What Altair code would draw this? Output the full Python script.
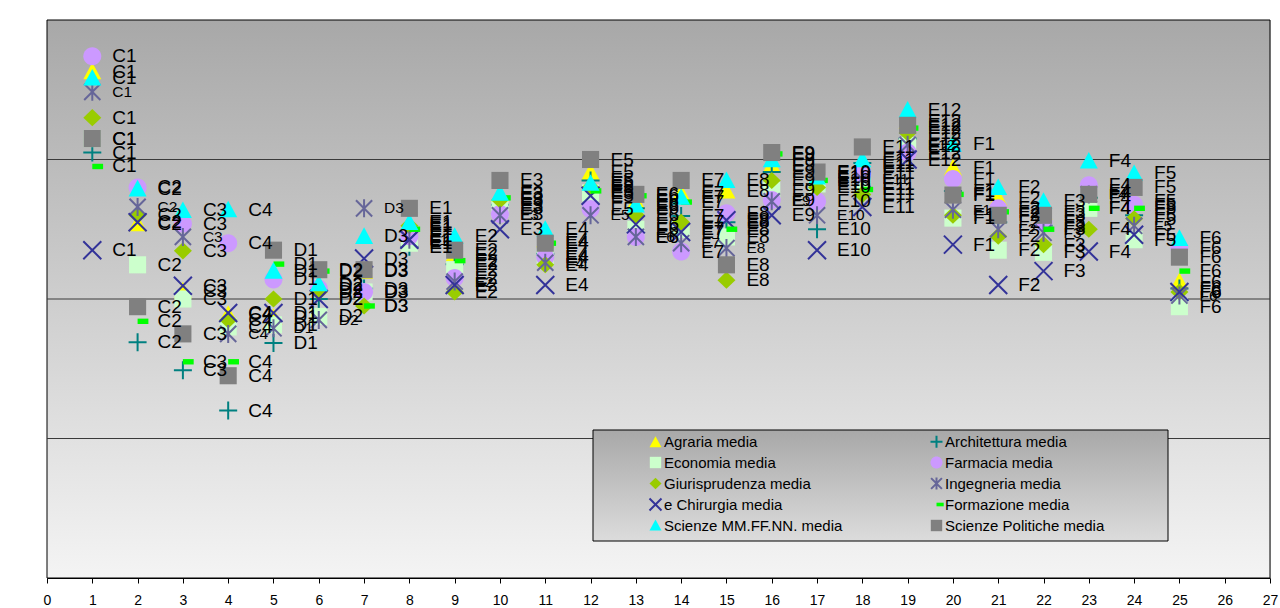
import altair as alt
import pandas as pd

FONT = "Liberation Sans"

# Course codes along the x axis (position 1..25)
codes = ["C1", "C2", "C3", "C4", "D1", "D2", "D3",
         "E1", "E2", "E3", "E4", "E5", "E6", "E7", "E8", "E9", "E10", "E11", "E12",
         "F1", "F2", "F3", "F4", "F5", "F6"]

series_names = ["Agraria media", "Architettura media", "Economia media", "Farmacia media",
                "Giurisprudenza media", "Ingegneria media", "e Chirurgia media",
                "Formazione media", "Scienze MM.FF.NN. media", "Scienze Politiche media"]

agraria = [9.26, 7.08, 6.12, 5.78, 5.74, 6.2, 6.4, 7.08, 6.65, 7.5, 6.85, 7.82, 7.4,
           7.52, 7.55, 7.92, 7.8, 7.9, 8.55, 7.88, 7.45, 7.25, 7.55, 7.4, 6.25]
architettura = [8.1, 5.38, 4.98, 4.4, 5.37, 6.0, 6.15, 6.75, 6.5, 7.35, 6.65, 7.7, 7.3,
                7.19, 7.1, 7.82, 7.0, 7.95, 8.3, 7.55, 7.1, 7.05, 7.45, 7.2, 6.15]
economia = [8.3, 6.49, 6.0, 5.6, 5.63, 5.75, 6.1, 6.8, 6.42, 7.3, 6.6, 7.52, 7.0,
            7.0, 6.89, 7.56, 7.65, 7.65, 8.2, 7.16, 6.7, 6.67, 7.3, 6.85, 5.89]
farmacia = [9.48, 7.6, 7.08, 6.8, 6.28, 6.15, 6.1, 6.9, 6.3, 7.22, 6.6, 7.29, 6.89,
            6.68, 7.23, 7.42, 7.4, 7.8, 8.1, 7.72, 7.3, 7.1, 7.63, 7.35, 6.73]
giurisprudenza = [8.6, 7.2, 6.69, 5.7, 6.0, 6.1, 5.9, 7.05, 6.1, 7.42, 6.49, 7.6, 7.2,
                  7.1, 6.27, 7.7, 7.6, 7.5, 8.38, 7.2, 6.9, 6.78, 7.0, 7.15, 6.1]
ingegneria = [8.97, 7.32, 6.89, 5.5, 5.58, 5.7, 7.3, 6.85, 6.25, 7.2, 6.52, 7.2, 6.89,
              6.8, 6.73, 7.4, 7.2, 7.72, 8.21, 7.28, 7.0, 6.95, 7.5, 7.05, 6.05]
medicina = [6.7, 7.1, 6.19, 5.8, 5.8, 6.0, 6.58, 6.85, 6.2, 7.0, 6.2, 7.48, 7.07,
            6.96, 7.13, 7.2, 6.7, 7.32, 8.0, 6.78, 6.2, 6.4, 6.68, 6.92, 6.1]
formazione = [7.9, 5.68, 5.1, 5.1, 6.5, 6.4, 5.9, 7.0, 6.55, 7.45, 6.8, 7.55, 7.48,
              7.39, 7.0, 8.08, 7.7, 7.57, 8.45, 7.5, 7.25, 7.0, 7.3, 7.3, 6.4]
mmffnn = [9.17, 7.58, 7.27, 7.28, 6.4, 6.22, 6.9, 7.1, 6.9, 7.52, 7.0, 7.66, 7.35,
          7.46, 7.7, 8.0, 7.75, 8.0, 8.71, 8.22, 7.6, 7.4, 7.98, 7.8, 6.87]
scipol = [8.3, 5.89, 5.5, 4.9, 6.7, 6.42, 6.42, 7.3, 6.7, 7.7, 6.8, 8.0, 7.5,
          7.7, 6.49, 8.1, 7.82, 8.18, 8.49, 7.49, 7.2, 7.2, 7.5, 7.6, 6.6]

all_values = [agraria, architettura, economia, farmacia, giurisprudenza,
              ingegneria, medicina, formazione, mmffnn, scipol]

# Marker styles, one per series (SVG paths in the unit square)
TRI = "M0,-1L1,0.85L-1,0.85Z"
PLUS = "M-1,0H1M0,-1V1"
SQUARE = "M-0.95,-0.95H0.95V0.95H-0.95Z"
CIRCLE = "M1,0A1,1,0,1,1,-1,0A1,1,0,1,1,1,0Z"
DIAMOND = "M0,-0.95L1,0L0,0.95L-1,0Z"
STAR = "M-0.9,-0.9L0.9,0.9M-0.9,0.9L0.9,-0.9M0,-1V1"
XMARK = "M-1,-1L1,1M-1,1L1,-1"
DASH = "M0,-0.3H1.2V0.3H0Z"

style = {
    "Agraria media": (TRI, "#ffff00", "transparent"),
    "Architettura media": (PLUS, "transparent", "#008080"),
    "Economia media": (SQUARE, "#ccffcc", "transparent"),
    "Farmacia media": (CIRCLE, "#cc99ff", "transparent"),
    "Giurisprudenza media": (DIAMOND, "#99cc00", "transparent"),
    "Ingegneria media": (STAR, "transparent", "#666699"),
    "e Chirurgia media": (XMARK, "transparent", "#333399"),
    "Formazione media": (DASH, "#00ff00", "transparent"),
    "Scienze MM.FF.NN. media": (TRI, "#00ffff", "transparent"),
    "Scienze Politiche media": (SQUARE, "#808080", "transparent"),
}

# The legend fills its two columns top to bottom, so list the left column first
legend_order = series_names[0::2] + series_names[1::2]
shapes = [style[s][0] for s in legend_order]
fills = [style[s][1] for s in legend_order]
strokes = [style[s][2] for s in legend_order]

rows = []
for name, vals in zip(series_names, all_values):
    for i, (code, v) in enumerate(zip(codes, vals)):
        rows.append({"serie": name, "x": i + 1, "y": v, "code": code})
df = pd.DataFrame(rows)

grid_values = [4, 6, 8]

W, H = 1223, 558

x_scale = alt.Scale(domain=[0, 27], nice=False, zero=False)
y_scale = alt.Scale(domain=[2, 10], nice=False, zero=False)

def gradient(top, bottom):
    return alt.Gradient(
        gradient="linear",
        stops=[alt.GradientStop(color=top, offset=0),
               alt.GradientStop(color=bottom, offset=1)],
        x1=0, x2=0, y1=0, y2=1,
    )

background = alt.Chart(alt.Data(values=[{}])).mark_rect(
    fill=gradient("#a8a8a8", "#f4f4f4"), stroke="#000000", strokeWidth=1
).encode(x=alt.value(0), x2=alt.value(W), y=alt.value(0), y2=alt.value(H))

grid = alt.Chart(pd.DataFrame({"g": grid_values})).mark_rule(
    color="#3a3a3a", strokeWidth=1
).encode(y=alt.Y("g:Q", scale=y_scale, axis=None))

legend_box = alt.Chart(alt.Data(values=[{}])).mark_rect(
    fill=gradient("#a8a8a8", "#dcdcdc"), stroke="#000000", strokeWidth=1
).encode(x=alt.value(546), x2=alt.value(1121), y=alt.value(410), y2=alt.value(521))

leg = alt.Legend(
    title=None, orient="none", legendX=601, legendY=414, columns=2,
    columnPadding=83, rowPadding=0, symbolSize=144, symbolStrokeWidth=2,
    labelFont=FONT, labelFontSize=15, labelColor="#000000", labelOffset=1,
    labelLimit=0, padding=0, fillColor=None, strokeColor=None,
)

points = alt.Chart(df).mark_point(filled=True, size=324, strokeWidth=2, opacity=1).encode(
    x=alt.X("x:Q", scale=x_scale, axis=alt.Axis(
        values=list(range(28)), title=None, grid=False, labelFont=FONT, labelFontSize=14,
        labelColor="#000000", tickColor="#000000", domainColor="#000000", tickSize=5,
        labelPadding=10, labelFlush=False, labelOverlap=False)),
    y=alt.Y("y:Q", scale=y_scale, axis=alt.Axis(
        values=[2, 4, 6, 8, 10], title=None, grid=False, labelFont=FONT, labelFontSize=19,
        labelColor="#000000", tickColor="#000000", domainColor="#000000", tickSize=6,
        labelPadding=10, labelFlush=False)),
    shape=alt.Shape("serie:N", scale=alt.Scale(domain=legend_order, range=shapes), legend=leg),
    fill=alt.Fill("serie:N", scale=alt.Scale(domain=legend_order, range=fills), legend=leg),
    stroke=alt.Stroke("serie:N", scale=alt.Scale(domain=legend_order, range=strokes), legend=leg),
)

labels = alt.Chart(df).mark_text(
    align="left", baseline="middle", dx=20, font=FONT, color="#000000"
).encode(
    x=alt.X("x:Q", scale=x_scale),
    y=alt.Y("y:Q", scale=y_scale),
    text="code:N",
    size=alt.condition(alt.datum.serie == "Ingegneria media", alt.value(15.5), alt.value(19)),
)

chart = alt.layer(background, grid, legend_box, points, labels).properties(
    width=W, height=H,
    autosize=alt.AutoSizeParams(type="none"),
    padding={"left": 47, "top": 20, "right": 10, "bottom": 30},
).configure_view(stroke=None).configure(background="#ffffff")

chart.save("out.html", embed_options={"renderer": "svg", "actions": False})
